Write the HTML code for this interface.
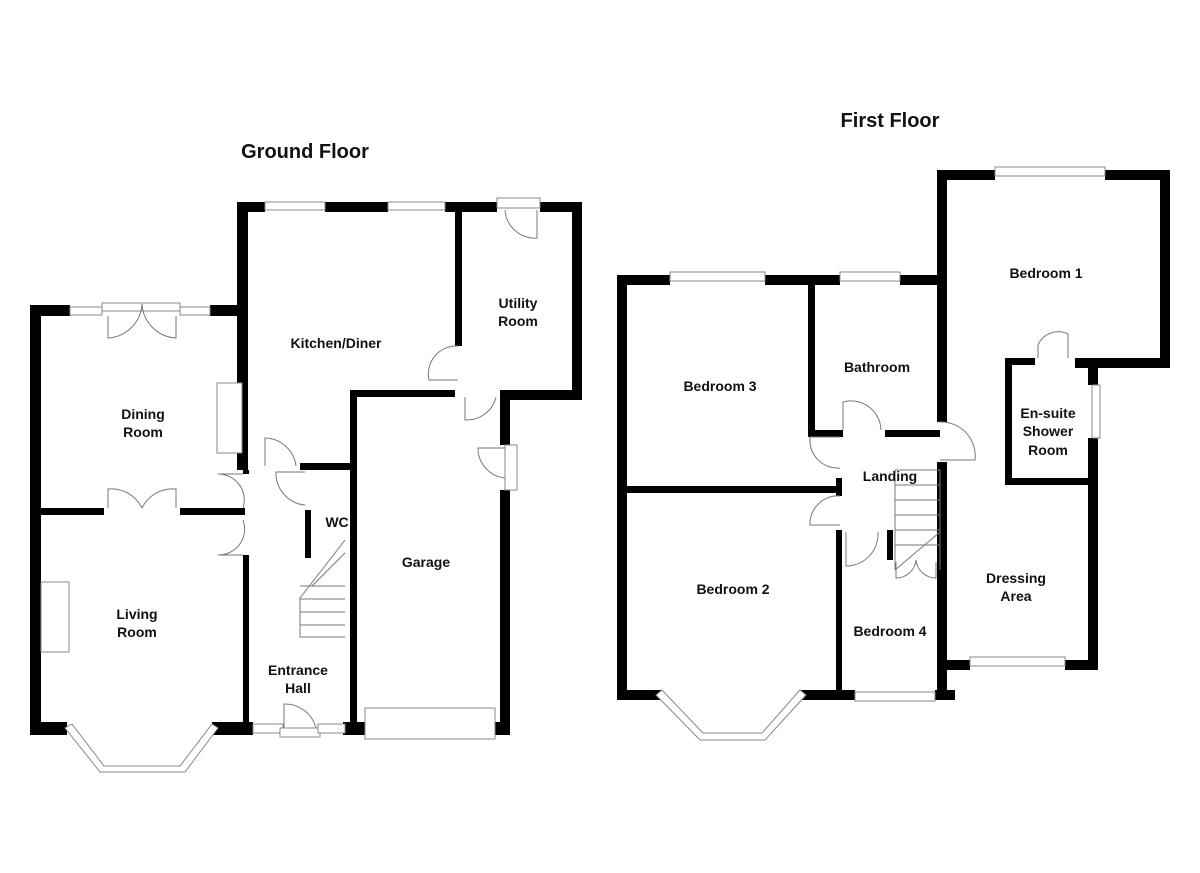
<!DOCTYPE html>
<html><head><meta charset="utf-8"><style>
html,body{margin:0;padding:0;background:#fff;width:1200px;height:873px;overflow:hidden}
svg{display:block}
text{font-family:"Liberation Sans",Arial,sans-serif;font-weight:bold;fill:#111}
.l{font-size:14px}
.t{font-size:20px}
.w{fill:#000}
.win{fill:#fff;stroke:#888;stroke-width:1}
.d{fill:none;stroke:#777;stroke-width:1}
</style></head><body>
<svg width="1200" height="873" viewBox="0 0 1200 873">
<text class="t" x="305" y="158" text-anchor="middle">Ground Floor</text>
<text class="t" x="890" y="127" text-anchor="middle">First Floor</text>

<!-- GROUND FLOOR walls -->
<g class="w">
<rect x="30" y="305" width="11" height="430"/>
<rect x="30" y="305" width="40" height="11"/>
<rect x="210" y="305" width="37" height="11"/>
<rect x="237" y="202" width="11" height="268"/>
<rect x="237" y="202" width="28" height="10"/>
<rect x="325" y="202" width="63" height="10"/>
<rect x="445" y="202" width="52" height="10"/>
<rect x="540" y="202" width="42" height="10"/>
<rect x="572" y="202" width="10" height="198"/>
<rect x="500" y="390" width="82" height="10"/>
<rect x="455" y="212" width="7" height="134"/>
<rect x="350" y="390" width="105" height="7"/>
<rect x="350" y="390" width="7" height="345"/>
<rect x="500" y="390" width="10" height="55"/>
<rect x="500" y="490" width="10" height="245"/>
<rect x="41" y="508" width="63" height="7"/>
<rect x="180" y="508" width="65" height="7"/>
<rect x="243" y="470" width="6" height="4"/>
<rect x="243" y="555" width="6" height="170"/>
<rect x="300" y="463" width="57" height="7"/>
<rect x="305" y="510" width="6" height="48"/>
<rect x="30" y="722" width="37" height="13"/>
<rect x="212" y="722" width="41" height="13"/>
<rect x="343" y="722" width="22" height="13"/>
<rect x="495" y="722" width="15" height="13"/>
</g>
<!-- GF windows/doors -->
<g>
<rect class="win" x="265" y="202" width="60" height="8"/>
<rect class="win" x="388" y="202" width="57" height="8"/>
<rect class="win" x="497" y="198" width="43" height="10"/>
<rect class="win" x="70" y="307" width="32" height="8"/>
<rect class="win" x="102" y="303" width="78" height="8"/>
<rect class="win" x="180" y="307" width="30" height="8"/>
<rect class="win" x="505" y="445" width="12" height="45"/>
<rect class="win" x="253" y="724" width="30" height="9"/>
<rect class="win" x="280" y="728" width="40" height="9"/>
<rect class="win" x="318" y="724" width="27" height="9"/>
<rect class="win" x="365" y="708" width="130" height="31"/>
<rect class="win" x="217" y="383" width="25" height="70"/>
<rect class="win" x="41" y="582" width="28" height="70"/>
<polygon class="win" points="65,728 100,772 185,772 218,728 212,724 180,766 104,766 72,724"/>
<path class="d" d="M108 316 V338 A36 36 0 0 0 142 304 M176 316 V338 A36 36 0 0 1 142 304"/>
<path class="d" d="M108 508 V489 A34 34 0 0 1 142 508 M176 508 V489 A34 34 0 0 0 142 508"/>
<path class="d" d="M243 474 H218 A26 26 0 0 1 243 508 M243 555 H218 A26 26 0 0 0 243 520"/>
<path class="d" d="M265 466 V438 A32 32 0 0 1 296 466"/>
<path class="d" d="M305 472 H276 A32 32 0 0 0 305 505"/>
<path class="d" d="M458 346 A28 28 0 0 0 429 380 H458"/>
<path class="d" d="M465 397 V420 A30 30 0 0 0 496 397"/>
<path class="d" d="M537 210 V238 A30 30 0 0 1 505 210"/>
<path class="d" d="M505 448 H478 A30 30 0 0 0 505 478"/>
<path class="d" d="M284 728 V704 A32 32 0 0 1 316 728"/>
<path class="d" d="M300 637 H345 M300 598 V637 M300 625 H345 M300 612 H345 M300 599 H345 M300 586 H345 M300 598 L345 540 M312 586 L345 553"/>
</g>

<!-- FIRST FLOOR walls -->
<g class="w">
<rect x="617" y="275" width="10" height="425"/>
<rect x="617" y="275" width="53" height="10"/>
<rect x="765" y="275" width="75" height="10"/>
<rect x="900" y="275" width="47" height="10"/>
<rect x="937" y="170" width="10" height="252"/>
<rect x="937" y="462" width="10" height="238"/>
<rect x="937" y="170" width="58" height="10"/>
<rect x="1105" y="170" width="65" height="10"/>
<rect x="1160" y="170" width="10" height="198"/>
<rect x="1075" y="358" width="95" height="10"/>
<rect x="1005" y="358" width="30" height="7"/>
<rect x="1005" y="358" width="7" height="127"/>
<rect x="1005" y="478" width="90" height="7"/>
<rect x="1088" y="360" width="10" height="25"/>
<rect x="1088" y="438" width="10" height="232"/>
<rect x="947" y="660" width="23" height="10"/>
<rect x="1065" y="660" width="33" height="10"/>
<rect x="808" y="285" width="7" height="152"/>
<rect x="808" y="430" width="35" height="7"/>
<rect x="885" y="430" width="55" height="7"/>
<rect x="627" y="486" width="213" height="7"/>
<rect x="836" y="478" width="6" height="18"/>
<rect x="836" y="530" width="6" height="170"/>
<rect x="887" y="530" width="6" height="30"/>
<rect x="617" y="690" width="45" height="10"/>
<rect x="800" y="690" width="55" height="10"/>
<rect x="935" y="690" width="20" height="10"/>
</g>
<g>
<rect class="win" x="670" y="272" width="95" height="9"/>
<rect class="win" x="840" y="272" width="60" height="9"/>
<rect class="win" x="995" y="167" width="110" height="9"/>
<rect class="win" x="1092" y="385" width="8" height="53"/>
<rect class="win" x="970" y="657" width="95" height="9"/>
<rect class="win" x="855" y="692" width="80" height="9"/>
<polygon class="win" points="656,695 700,740 765,740 806,695 800,690 762,733 703,733 662,690"/>
<path class="d" d="M1038 358 V345 A22 22 0 0 1 1068 334 V358"/>
<path class="d" d="M843 430 V402 A30 30 0 0 1 881 430"/>
<path class="d" d="M840 437 H810 A28 28 0 0 0 840 468"/>
<path class="d" d="M840 525 H810 A28 28 0 0 1 840 496"/>
<path class="d" d="M846 532 V566 A32 32 0 0 0 878 532"/>
<path class="d" d="M940 422 A34 34 0 0 1 975 460 H940"/>
<path class="d" d="M895 470 H940 V570 M895 470 V570 M895 485 H940 M895 500 H940 M895 515 H940 M895 530 H940 M895 545 H940 M895 570 L940 532"/>
<path class="d" d="M896 562 V578 A20 20 0 0 0 916 560 M936 562 V578 A20 20 0 0 1 916 560"/>
</g>

<!-- labels -->
<g class="l" text-anchor="middle">
<text x="336" y="348">Kitchen/Diner</text>
<text x="518" y="308">Utility</text><text x="518" y="326">Room</text>
<text x="143" y="419">Dining</text><text x="143" y="437">Room</text>
<text x="337" y="527">WC</text>
<text x="426" y="567">Garage</text>
<text x="137" y="619">Living</text><text x="137" y="637">Room</text>
<text x="298" y="675">Entrance</text><text x="298" y="693">Hall</text>
<text x="1046" y="278">Bedroom 1</text>
<text x="877" y="372">Bathroom</text>
<text x="720" y="391">Bedroom 3</text>
<text x="1048" y="418">En-suite</text><text x="1048" y="436">Shower</text><text x="1048" y="455">Room</text>
<text x="890" y="481">Landing</text>
<text x="733" y="594">Bedroom 2</text>
<text x="1016" y="583">Dressing</text><text x="1016" y="601">Area</text>
<text x="890" y="636">Bedroom 4</text>
</g>
</svg>
</body></html>
